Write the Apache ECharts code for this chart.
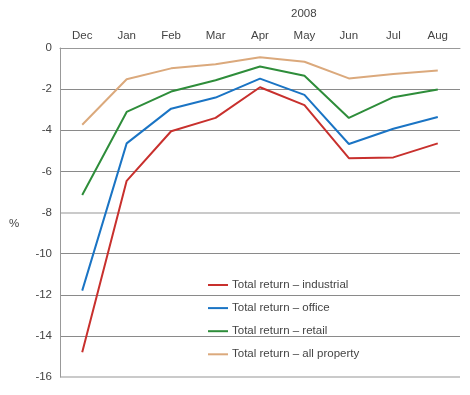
<!DOCTYPE html>
<html><head><meta charset="utf-8">
<script src="https://cdn.jsdelivr.net/npm/echarts@6/dist/echarts.min.js"></script>
<style>html,body{margin:0;padding:0;background:#fff}#c{width:470px;height:395px}</style>
</head><body><div id="c"></div>
<script>
var months = ['Dec','Jan','Feb','Mar','Apr','May','Jun','Jul','Aug'];
var yearLabel = '2008';
var unitLabel = '%';
var industrial = [-14.8,-6.46,-4.05,-3.40,-1.91,-2.78,-5.36,-5.32,-4.64];
var office = [-11.8,-4.64,-2.95,-2.41,-1.49,-2.28,-4.67,-3.93,-3.36];
var retail = [-7.15,-3.11,-2.12,-1.57,-0.90,-1.35,-3.40,-2.39,-2.02];
var allProperty = [-3.73,-1.52,-0.99,-0.79,-0.45,-0.67,-1.48,-1.27,-1.09];
var seriesNames = ['Total return \u2013 industrial','Total return \u2013 office','Total return \u2013 retail','Total return \u2013 all property'];
var colors = ['#c8302d','#1a74c4','#2e8d3a','#dba97c'];
var FONT = 'Liberation Sans';
var chart = echarts.init(document.getElementById('c'));
var data = [industrial, office, retail, allProperty];
chart.setOption({
  animation:false,
  textStyle:{fontFamily:FONT},
  grid:{left:60,right:10,top:48,bottom:18},
  graphic:[
    {type:'text',left:291,top:8,style:{text:yearLabel,font:'11.5px "Liberation Sans"',fill:'#444'}},
    {type:'text',left:9,top:218,style:{text:unitLabel,font:'11.5px "Liberation Sans"',fill:'#444'}}
  ],
  legend:{orient:'vertical',left:203,top:274,itemWidth:20,itemHeight:2,itemGap:11.1,icon:'rect',
    textStyle:{fontSize:11.5,color:'#444',fontFamily:FONT,padding:[0,0,0,-1]},
    data:seriesNames.map(function(n){return {name:n,icon:'rect'};})},
  xAxis:{type:'category',position:'top',data:months,boundaryGap:true,
    axisLine:{lineStyle:{color:'#999',width:1}},
    axisTick:{inside:true,length:14,lineStyle:{color:'#aaa'}},
    axisLabel:{color:'#444',fontSize:11.5,margin:6}},
  yAxis:[{type:'value',min:-16,max:0,interval:2,
    axisLine:{show:true,lineStyle:{color:'#999'}},axisTick:{show:false},
    axisLabel:{color:'#444',fontSize:11.5,margin:8},
    splitLine:{lineStyle:{color:['rgba(0,0,0,0)','#8a8a8a','#8a8a8a','#8a8a8a'],width:1}}},
   {type:'value',min:-16,max:0,interval:8,position:'left',axisLine:{show:false},axisTick:{show:false},
    axisLabel:{show:false},splitLine:{lineStyle:{color:['#cacaca','#cacaca','rgba(0,0,0,0)'],width:2}}}],
  series:data.map(function(d,i){return {name:seriesNames[i],type:'line',data:d,symbol:'none',
    lineStyle:{color:colors[i],width:2},itemStyle:{color:colors[i]},z:10-i};})
});
</script></body></html>
